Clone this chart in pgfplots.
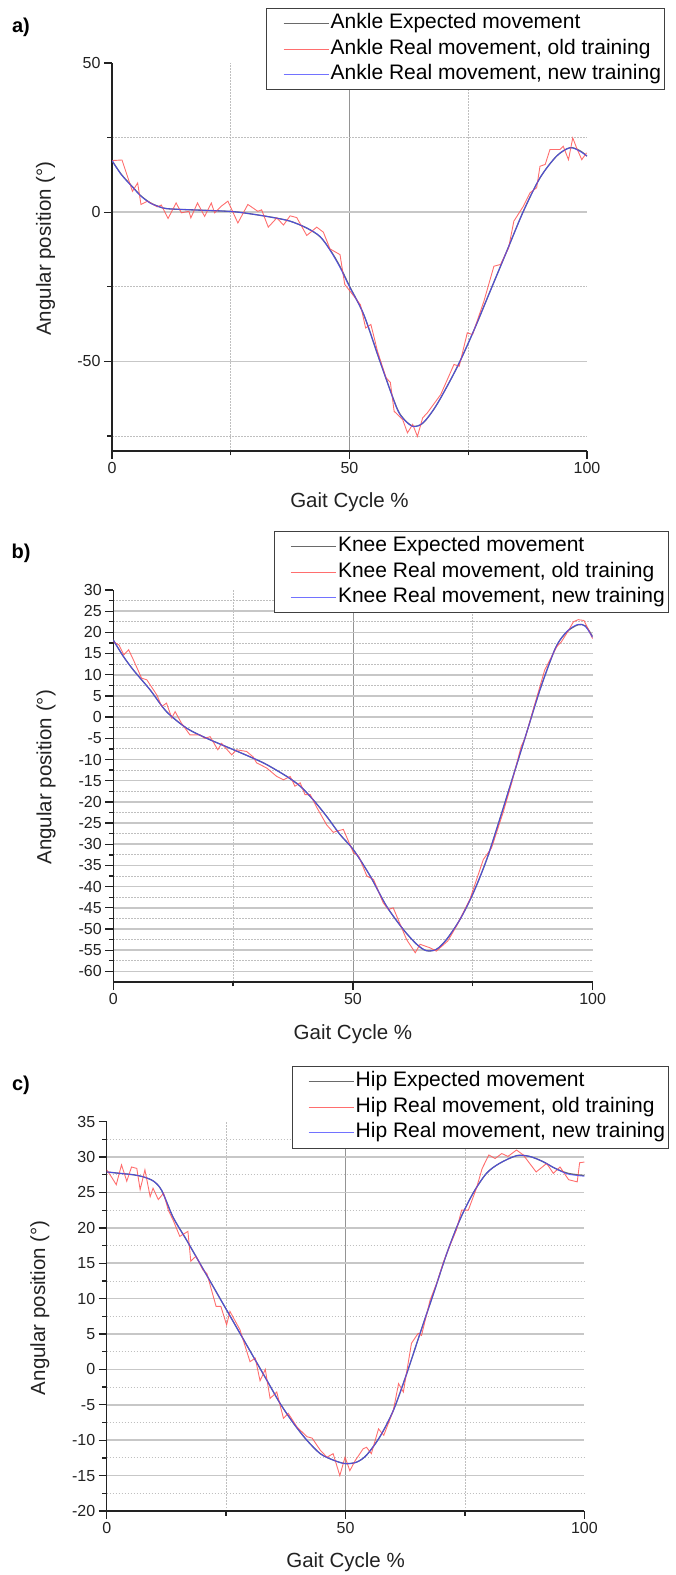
\documentclass[border=0pt]{standalone}
\usepackage{fontspec}
\setmainfont{Liberation Sans}
\usepackage{pgfplots}
\pgfplotsset{compat=1.18}

\definecolor{expc}{HTML}{6A6A6A}
\definecolor{oldc}{HTML}{FF5555}
\definecolor{newc}{HTML}{4444FF}
\definecolor{axc}{HTML}{222222}

\pgfplotsset{
  gait/.style={
    scale only axis,
    anchor=south west,
    axis x line=bottom, axis y line=left,
    axis line style={-, line width=1.5pt, draw=axc},
    xmin=0, xmax=100,
    xtick={0,50}, extra x ticks={100}, minor xtick={25,75},
    extra x tick style={grid=none},
    extra y tick style={grid=none},
    grid=both,
    major x grid style={draw=black!42, line width=0.9pt},
    major y grid style={draw=black!22, line width=1.6pt},
    minor grid style={draw=black!25, line width=0.9pt, dash pattern=on 1.5pt off 1.5pt},
    tick align=outside,
    major tick length=8pt, minor tick length=4.5pt,
    tick style={draw=axc, line width=1.3pt},
    ticklabel style={font=\fontsize{16}{19}\selectfont, text=axc},
    /pgf/number format/assume math mode=true,
    label style={font=\fontsize{20.5}{24}\selectfont, text=axc},
    xlabel={Gait Cycle \%},
    ylabel={Angular position (°)},
    xlabel style={at={(axis description cs:0.5,-0.132)}, anchor=center},
    ylabel style={at={(axis description cs:-0.14,0.522)}, anchor=center},
    legend cell align=left,
    legend image code/.code={\path (-14pt,0pt); \draw[##1] (0pt,0pt) -- (45pt,0pt);},
    legend style={draw=black!75, fill=white, line width=0.8pt, anchor=north east,
      font=\fontsize{21}{25}\selectfont, inner xsep=2pt, inner ysep=2.5pt, row sep=0pt,
      nodes={inner sep=1.5pt, text height=16.5pt, text depth=6pt}},
  },
  expl/.style={color=expc, line width=1.3pt, smooth, tension=0.5},
  oldl/.style={color=oldc, line width=0.9pt, opacity=0.85},
  newl/.style={color=newc, line width=1pt, opacity=0.75, smooth, tension=0.5},
}

\begin{document}
\begin{tikzpicture}
\path[use as bounding box] (0pt,0pt) rectangle (675pt,1575pt);

\node[font=\bfseries\fontsize{20}{24}\selectfont] at (21pt,1548pt) {a)};
\node[font=\bfseries\fontsize{20}{24}\selectfont] at (21pt,1022pt) {b)};
\node[font=\bfseries\fontsize{20}{24}\selectfont] at (21pt,490pt) {c)};

% ---------------- a) ankle
\begin{axis}[gait,
  at={(112pt,1124pt)}, width=475pt, height=388pt,
  ymin=-80, ymax=50,
  ytick={-50,0}, extra y ticks={50}, minor ytick={-75,-25,25},
  legend style={at={(1.164,1.142)}},
]
\addplot[expl] coordinates {
(0,17.3) (2,12.6) (4.5,8.2) (6,5.6) (8,3.2) (10,1.8) (11.5,1.2) (15,0.9) (20,0.6)
(25.5,0.2) (29.8,-0.7) (34,-1.8) (37.5,-3) (41,-5.3) (43.8,-8.2) (46,-12.8) (48,-18.2)
(50,-24.8) (53,-34.3) (56.4,-49.9) (59.9,-65.3) (61.5,-69.4) (63.4,-71.7) (65.5,-70.6)
(68.4,-64.4) (72.6,-52.1) (76.1,-39.9) (79.6,-26.5) (83.1,-13.1) (86.6,0.3) (90.1,11.5)
(93.6,18.8) (96.4,21.6) (98.5,20.6) (100,18.8)
};
\addlegendentry{Ankle Expected movement}
\addplot[oldl] coordinates {
(0,17.3) (2.1,17.5) (4.3,7) (5.4,9.8) (6.1,2.6) (7.5,3.7) (9.5,1.8) (10.4,2.4) (11.8,-2.1)
(13.5,3.1) (14.6,-0.2) (16.2,0.3) (16.6,-1.9) (18,3.1) (19.5,-1.4) (20.9,3.1) (21.6,-0.2)
(23,2.0) (24.4,3.7) (26.5,-3.6) (28.6,2.6) (30.7,0.3) (31.5,0.8) (32.9,-5.0) (34.7,-1.9)
(36.1,-4.3) (37.5,-1.2) (38.9,-1.8) (41,-7.8) (43.1,-5.0) (44.5,-6.7) (45.9,-12.3)
(48,-14.2) (49,-24.2) (51.2,-28.7) (52.3,-31) (53.4,-38.8) (54.5,-37.6) (55.9,-46.6)
(57.7,-55.5) (58.6,-57) (59.4,-66.7) (61.2,-69.5) (62.2,-73.9) (63.3,-71.1) (64.3,-75.1)
(65.4,-68.9) (66.4,-67.2) (69.2,-61.1) (72,-51) (73.1,-51.6) (74.8,-40.4) (75.9,-41)
(78.3,-29.8) (80.4,-18.1) (81.8,-17.5) (83.5,-11.9) (84.6,-3.0) (86.6,2.0) (88,6.5)
(89.4,8.2) (90.1,15.4) (91.2,16.0) (92.2,21.0) (94.3,21.0) (95,22.1) (96.1,17.6)
(97,24.9) (97.8,21.6) (98.9,17.6) (99.9,19.9)
};
\addlegendentry{Ankle Real movement, old training}
\addplot[newl] coordinates {
(0,17.3) (2,12.5) (4.5,8.1) (6,5.5) (8,3.1) (10,1.8) (11.5,1.2) (15,0.9) (20,0.6)
(25.5,0.2) (29.8,-0.7) (34,-1.8) (37.5,-3) (41,-5.3) (43.8,-8.1) (46,-13) (48,-18.5)
(50,-25) (53,-34.3) (56.4,-49.9) (59.9,-65.5) (61.5,-69.5) (63.4,-71.8) (65.5,-70.5)
(68.4,-64.4) (72.6,-52.1) (76.1,-39.9) (79.6,-26.5) (83.1,-13.1) (86.6,0.3) (90.1,11.5)
(93.6,18.8) (96.4,21.6) (98.5,20.4) (100,18.8)
};
\addlegendentry{Ankle Real movement, new training}
\end{axis}

% ---------------- b) knee
\begin{axis}[gait,
  at={(113.3pt,593pt)}, width=479.3pt, height=392pt,
  ymin=-62.5, ymax=30,
  ytick={-60,-55,...,25}, extra y ticks={30}, minor ytick={-57.5,-52.5,...,27.5},
  legend style={at={(1.159,1.151)}},
]
\addplot[expl] coordinates {
(0,18.2) (2,14.5) (4.2,11.1) (7.7,6.4) (11.1,1.3) (15.3,-2.6) (19.5,-5.0) (25.1,-7.7)
(29.2,-9.7) (32,-11.2) (36.2,-14.0) (39,-16.3) (41.7,-19.5) (44.5,-23.4) (47.3,-27.7)
(50.1,-31.3) (53.6,-37.5) (57,-44.6) (60.5,-50.1) (63.3,-53.6) (65.3,-55.1) (67.4,-54.8)
(69.5,-52.5) (72.3,-47.8) (75.1,-41.5) (77.9,-33.6) (80.6,-24.2) (83.4,-14.0) (86.2,-3.8)
(89,6.4) (91.8,15.1) (93.2,18.2) (95,20.5) (97,21.8) (98.5,21.5) (100,19)
};
\addlegendentry{Knee Expected movement}
\addplot[oldl] coordinates {
(0,17.8) (1.2,17.0) (2.2,14.7) (3.2,15.9) (4.2,13.5) (5.9,9.2) (7.0,8.8) (9.1,5.2)
(10.1,2.5) (11.1,3.3) (12.2,-0.2) (12.9,1.3) (14.2,-1.4) (16,-4.2) (18.1,-4.2) (19.1,-5.0)
(20.2,-4.6) (21.8,-7.7) (22.6,-6.2) (24.7,-8.9) (25.7,-7.7) (27.8,-8.1) (29.2,-9.4)
(29.9,-10.8) (32,-12.0) (34.1,-14.0) (35.5,-14.8) (36.9,-14.0) (37.9,-16.3) (39,-15.5)
(40,-18.3) (41.1,-18.3) (42.5,-21.4) (44.5,-25.4) (45.9,-27.2) (46.6,-26.9) (48,-26.5)
(50.1,-32.0) (51.2,-32.8) (52.9,-37.5) (54.3,-38.3) (56.3,-43.8) (57.4,-45.4) (58.4,-45.0)
(61.2,-52.5) (63.0,-55.6) (64.0,-53.6) (66,-54.4) (67.4,-55.2) (69.8,-52.8) (71.6,-49.3)
(74.4,-43.0) (77.2,-33.6) (78.9,-30.9) (81.3,-22.6) (83.1,-15.6) (85.1,-6.9) (85.9,-5.0)
(87.9,2.9) (90,11.1) (92.5,16.6) (93.5,17.8) (95,20.5) (96,22.5) (97,23) (98.2,22.8)
(99,21) (100,18.5)
};
\addlegendentry{Knee Real movement, old training}
\addplot[newl] coordinates {
(0,18.2) (2,14.5) (4.2,11.1) (7.7,6.4) (11.1,1.3) (15.3,-2.6) (19.5,-5.0) (25.1,-7.7)
(29.2,-9.7) (32,-11.2) (36.2,-14.0) (39,-16.3) (41.7,-19.5) (44.5,-23.4) (47.3,-27.7)
(50.1,-31.3) (53.6,-37.5) (57,-44.6) (60.5,-50.1) (63.3,-53.6) (65.3,-55.1) (67.4,-54.8)
(69.5,-52.5) (72.3,-47.8) (75.1,-41.5) (77.9,-33.6) (80.6,-24.2) (83.4,-14.0) (86.2,-3.8)
(89,6.4) (91.8,15.1) (93.2,18.2) (95,20.6) (97,21.9) (98.5,21.4) (100,18.8)
};
\addlegendentry{Knee Real movement, new training}
\end{axis}

% ---------------- c) hip
\begin{axis}[gait,
  at={(106.7pt,64pt)}, width=477.7pt, height=389.3pt,
  ymin=-20, ymax=35,
  ytick={-20,-15,...,30}, extra y ticks={35}, minor ytick={-17.5,-12.5,...,32.5},
  legend style={at={(1.177,1.143)}},
]
\addplot[expl] coordinates {
(0,27.9) (2.8,27.7) (5.6,27.5) (7.7,27.2) (9.8,26.6) (11.5,25.3) (13.9,21.5) (16.7,18.3)
(19.5,15.0) (22.3,11.7) (25.1,8.4) (27.9,5.1) (30.7,1.8) (33.5,-1.5) (36.3,-4.8)
(39.1,-7.6) (41.9,-10.0) (44.7,-11.9) (47.4,-12.8) (49.9,-13.3) (52.3,-13.1) (54.4,-12.1)
(57.2,-9.5) (60,-5.8) (62.8,-0.6) (65.6,5.1) (68.4,10.7) (71.2,16.4) (73.9,21.1)
(76.7,24.9) (79.5,27.7) (82.2,29.1) (85.8,30.2) (88.5,30.1) (91.2,29.4) (93.9,28.4)
(96.6,27.7) (100,27.4)
};
\addlegendentry{Hip Expected movement}
\addplot[oldl] coordinates {
(0,28.2) (1,27.2) (2,26.1) (3.1,28.9) (4.2,26.6) (5.2,28.6) (6.3,28.4) (7,25.4) (8,28.2)
(9.1,24.4) (9.7,25.6) (10.8,24.0) (11.9,24.9) (12.9,22.5) (13.9,21.1) (15.3,18.8)
(17.0,19.5) (17.6,15.3) (18.7,16.0) (20.1,14.1) (21,13.5) (22.9,8.9) (23.9,8.9)
(25.1,6.3) (25.8,8.2) (27.9,5.6) (30,1.1) (31.1,1.6) (32.1,-1.6) (33.2,0) (34.2,-4.1)
(35.6,-3.2) (37,-6.9) (38,-6.2) (39.8,-8.1) (41.9,-9.5) (43,-9.7) (44.7,-11.4)
(46.1,-12.4) (47.4,-11.9) (48.8,-15.0) (49.9,-12.4) (50.9,-14.3) (52,-12.9) (53.7,-11.2)
(54.4,-11.0) (55.4,-11.9) (56.9,-8.4) (58,-9.3) (60,-5.8) (61.1,-2.0) (62.1,-3.2)
(63.8,3.7) (65.2,5.1) (65.9,4.8) (67.7,9.8) (69.1,12.2) (70.5,15.2) (71.9,17.6)
(73.2,19.7) (74.3,22.5) (75.7,22.5) (77.4,25.6) (78.6,28.4) (80,30.3) (81.3,29.8)
(82.7,30.5) (84,30.1) (85.8,31.0) (87.2,30.3) (89.9,27.9) (92.1,29.1) (93.5,27.7)
(94.9,28.6) (96.7,26.8) (98.5,26.5) (99,29.2) (100,29.3)
};
\addlegendentry{Hip Real movement, old training}
\addplot[newl] coordinates {
(0,27.9) (2.8,27.7) (5.6,27.5) (7.7,27.2) (9.8,26.6) (11.5,25.3) (13.9,21.5) (16.7,18.3)
(19.5,15.0) (22.3,11.7) (25.1,8.4) (27.9,5.1) (30.7,1.8) (33.5,-1.5) (36.3,-4.8)
(39.1,-7.6) (41.9,-10.0) (44.7,-11.9) (47.4,-12.8) (49.9,-13.3) (52.3,-13.1) (54.4,-12.1)
(57.2,-9.5) (60,-5.8) (62.8,-0.6) (65.6,5.1) (68.4,10.7) (71.2,16.4) (73.9,21.1)
(76.7,24.9) (79.5,27.7) (82.2,29.1) (85.8,30.2) (88.5,30.1) (91.2,29.4) (93.9,28.4)
(96.6,27.6) (100,27.3)
};
\addlegendentry{Hip Real movement, new training}
\end{axis}
\end{tikzpicture}
\end{document}
